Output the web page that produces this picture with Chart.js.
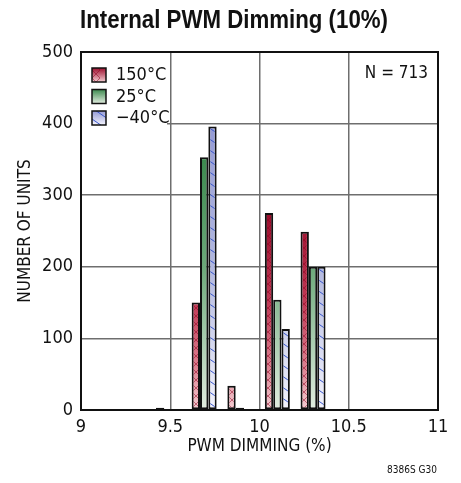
<!DOCTYPE html>
<html>
<head>
<meta charset="utf-8">
<script src="https://cdn.jsdelivr.net/npm/chart.js@4.4.1/dist/chart.umd.min.js"></script>
<style>
  html, body { margin: 0; padding: 0; background: #fff; }
  #wrap { width: 461px; height: 483px; }
</style>
</head>
<body>
<div id="wrap"><canvas id="histChart" width="461" height="483"></canvas></div>
<script>
// bin centres (PWM dimming %) and unit counts per temperature
const bins = [9.49, 9.69, 9.89, 10.1, 10.3];
const hot = [3, 150, 34, 275, 249];    // 150°C
const room = [0, 353, 3, 154, 200];    // 25°C
const cold = [0, 396, 0, 113, 200];    // -40°C
const seriesNames = ['150°C', '25°C', '\u221240°C'];
const xTicks = [9, 9.5, 10, 10.5, 11];
const yTicks = [0, 100, 200, 300, 400, 500];
const chartTitle = 'Internal PWM Dimming (10%)';

const FONT = "'Liberation Sans Narrow', 'DejaVu Sans Condensed', 'Liberation Sans', sans-serif";
Chart.defaults.font.family = FONT;
Chart.defaults.color = '#111';

const styles = {
    hot: { stops: [[0, '#7e001c'], [0.45, '#9c0e2d'], [0.7, '#c03a56'], [0.88, '#dc8090'], [1, '#f4cdd2']], hatch: 'cross', ink: 'rgba(140,0,30,0.5)' },
    room: { stops: [[0, '#25723a'], [0.3, '#3d8a4f'], [0.6, '#6ca97a'], [1, '#e2ede0']], hatch: null },
    cold: { stops: [[0, '#7a82c8'], [0.2, '#959bd6'], [0.6, '#b2b8e0'], [1, '#f3f3fc']], hatch: 'diag', ink: '#3a58cc' }
};

const fillCache = {};

function drawHatch(c, kind, ink, w, h) {
    c.strokeStyle = ink;
    c.lineWidth = 1;
    c.beginPath();
    if (kind === 'cross') {
        for (let y = -w; y < h + w; y += 8) {
            c.moveTo(0, y); c.lineTo(8, y + 8);
            c.moveTo(0, y + 8); c.lineTo(8, y);
        }
    } else if (kind === 'diag') {
        for (let y = -w; y < h + w; y += 11) {
            c.moveTo(0, y); c.lineTo(16, y + 11);
        }
    }
    c.stroke();
}

function makeFill(chart, key) {
    const area = chart.chartArea;
    const st = styles[key];
    if (!area) return st.stops[2][1];
    const id = key + area.top + '_' + area.bottom;
    if (fillCache[id]) return fillCache[id];
    const w = st.hatch === 'diag' ? 16 : 8;
    const h = chart.height;
    const tile = document.createElement('canvas');
    tile.width = w;
    tile.height = h;
    const c = tile.getContext('2d');
    const g = c.createLinearGradient(0, area.top, 0, area.bottom);
    st.stops.forEach(s => g.addColorStop(s[0], s[1]));
    c.fillStyle = g;
    c.fillRect(0, 0, w, h);
    if (st.hatch) drawHatch(c, st.hatch, st.ink, w, h);
    fillCache[id] = chart.ctx.createPattern(tile, 'repeat');
    return fillCache[id];
}

function points(values) {
    return bins.map((b, i) => ({ x: b, y: values[i] === 0 ? null : values[i] }));
}

const extras = {
    id: 'extras',
    afterDatasetsDraw(chart) {
        const ctx = chart.ctx;
        const a = chart.chartArea;
        ctx.save();
        // legend box inside plot
        ctx.fillStyle = '#fff';
        ctx.fillRect(a.left + 1, a.top + 1, 85, 72);
        const keys = ['hot', 'room', 'cold'];
        keys.forEach((k, i) => {
            const y = 68 + i * 21.5;
            const st = styles[k];
            const g = ctx.createLinearGradient(0, y, 0, y + 14);
            g.addColorStop(0, st.stops[1][1]);
            g.addColorStop(1, st.stops[st.stops.length - 1][1]);
            ctx.fillStyle = g;
            ctx.fillRect(92, y, 14, 14);
            if (st.hatch) {
                ctx.save();
                ctx.beginPath();
                ctx.rect(92, y, 14, 14);
                ctx.clip();
                ctx.translate(92, y);
                drawHatch(ctx, st.hatch, st.ink, 14, 14);
                ctx.restore();
            }
            ctx.strokeStyle = '#111';
            ctx.lineWidth = 1.5;
            ctx.strokeRect(92, y, 14, 14);
            ctx.fillStyle = '#111';
            ctx.font = '18px ' + FONT;
            ctx.textBaseline = 'middle';
            ctx.textAlign = 'left';
            ctx.fillText(seriesNames[i], 116, y + 7.5);
        });
        ctx.font = '17px ' + FONT;
        ctx.textAlign = 'right';
        ctx.fillText('N = 713', 428, 74);
        // frame
        ctx.strokeStyle = '#111';
        ctx.lineWidth = 2;
        ctx.strokeRect(a.left, a.top, a.right - a.left, a.bottom - a.top);
        ctx.font = '10px ' + FONT;
        ctx.fillText('8386S G30', 437, 470);
        // condensed bold title
        ctx.font = "bold 26px 'Liberation Sans', Arial, sans-serif";
        ctx.textAlign = 'center';
        ctx.textBaseline = 'alphabetic';
        const tw = ctx.measureText(chartTitle).width;
        const sx = Math.min(1, 308 / tw);
        ctx.translate(234, 28);
        ctx.scale(sx, 1);
        ctx.fillText(chartTitle, 0, 0);
        ctx.restore();
    }
};

const ctx = document.getElementById('histChart').getContext('2d');
const histChart = new Chart(ctx, {
    type: 'bar',
    data: {
        datasets: [
            { label: seriesNames[0], data: points(hot), backgroundColor: c => makeFill(c.chart, 'hot') },
            { label: seriesNames[1], data: points(room), backgroundColor: c => makeFill(c.chart, 'room') },
            { label: seriesNames[2], data: points(cold), backgroundColor: c => makeFill(c.chart, 'cold') }
        ]
    },
    options: {
        responsive: false,
        animation: false,
        layout: { padding: { left: 0, right: 23, top: 52, bottom: 0 } },
        datasets: {
            bar: {
                borderColor: '#111',
                borderWidth: 2,
                borderSkipped: false,
                categoryPercentage: 0.7,
                barPercentage: 1
            }
        },
        scales: {
            x: {
                type: 'linear',
                min: 9,
                max: 11,
                offset: false,
                afterBuildTicks: s => { s.ticks = xTicks.map(v => ({ value: v })); },
                afterFit: s => { s.height = 73; },
                ticks: { callback: v => String(v), font: { size: 18 }, padding: 7, maxRotation: 0 },
                grid: { color: '#6e6e6e', lineWidth: 1.5, offset: false, drawTicks: false },
                border: { color: '#111', width: 2 },
                title: { display: true, text: 'PWM DIMMING (%)', font: { size: 17 }, padding: { top: 0, bottom: 26 } }
            },
            y: {
                min: 0,
                max: 500,
                afterBuildTicks: s => { s.ticks = yTicks.map(v => ({ value: v })); },
                afterFit: s => { s.width = 81; },
                ticks: { font: { size: 18 }, padding: 8 },
                grid: { color: '#6e6e6e', lineWidth: 1.5, drawTicks: false },
                border: { color: '#111', width: 2 },
                title: { display: true, text: 'NUMBER OF UNITS', font: { size: 17 }, padding: { top: 15, bottom: 0 } }
            }
        },
        plugins: {
            legend: { display: false },
            tooltip: { enabled: false },
            title: { display: false }
        }
    },
    plugins: [extras]
});
</script>
</body>
</html>
